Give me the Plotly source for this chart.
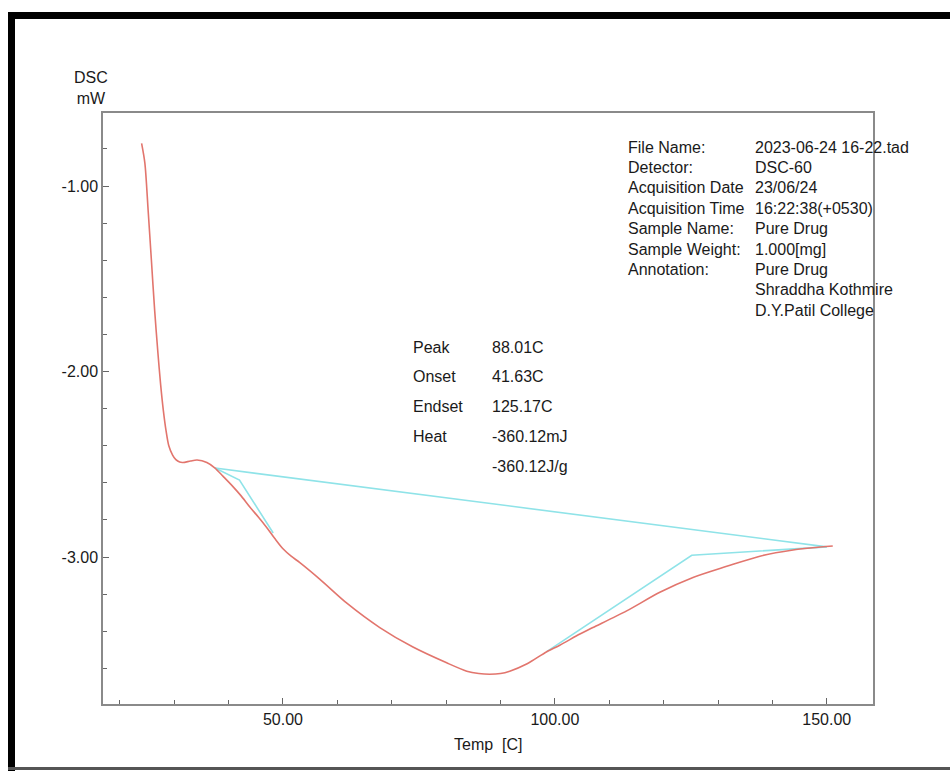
import plotly.graph_objects as go

# ---- data ----
temp = [24.0, 24.6, 25.2, 25.8, 26.4, 27.0, 27.5, 28.0, 28.5, 29.0, 29.7, 30.3,
        31.0, 31.6, 33.0, 34.2, 36.0, 37.5, 39.0, 40.8, 42.3, 43.9, 45.5, 47.0, 48.5,
        50.0, 51.5, 53.1, 56.8, 61.8, 67.8, 73.9, 80.1, 83.8, 86.0, 88.0, 90.0,
        91.7, 94.9, 98.5, 100.9, 104.6, 107.0, 113.2, 119.3, 125.4, 131.6,
        137.7, 143.8, 147.4, 151.1]
dsc = [-0.77, -0.876, -1.13, -1.40, -1.67, -1.90, -2.07, -2.21, -2.32, -2.40, -2.45, -2.475,
       -2.488, -2.49, -2.482, -2.477, -2.49, -2.52, -2.565, -2.62, -2.67, -2.73, -2.785, -2.84, -2.90,
       -2.955, -2.995, -3.03, -3.12, -3.25, -3.38, -3.485, -3.57, -3.615, -3.628, -3.632, -3.628,
       -3.615, -3.575, -3.51, -3.475, -3.415, -3.38, -3.29, -3.19, -3.11, -3.05,
       -2.995, -2.962, -2.95, -2.94]

baseline_t = [37.5, 150.0]
baseline_v = [-2.52, -2.945]
onset_t = [37.5, 42.0, 48.2]
onset_v = [-2.52, -2.585, -2.87]
endset_t = [98.5, 125.17, 150.0]
endset_v = [-3.51, -2.99, -2.945]

x_tickvals = [50, 100, 150]
x_ticktext = ["50.00", "100.00", "150.00"]
y_tickvals = [-1, -2, -3]
y_ticktext = ["-1.00", "-2.00", "-3.00"]

info_labels = ["File Name:", "Detector:", "Acquisition Date", "Acquisition Time",
               "Sample Name:", "Sample Weight:", "Annotation:"]
info_values = ["2023-06-24 16-22.tad", "DSC-60", "23/06/24", "16:22:38(+0530)",
               "Pure Drug", "1.000[mg]", "Pure Drug", "Shraddha Kothmire",
               "D.Y.Patil College"]
stat_labels = ["Peak", "Onset", "Endset", "Heat", ""]
stat_values = ["88.01C", "41.63C", "125.17C", "-360.12mJ", "-360.12J/g"]

# ---- layout geometry (pixels) ----
W, H = 950, 771
L, R, T, B = 103, 873, 113, 704
FONT = "Liberation Sans, Arial, sans-serif"
TXT = "#1a1a1a"


def px(x):
    return (x - L) / (R - L)


def py(y):
    return (B - y) / (B - T)


fig = go.Figure()
fig.add_trace(go.Scatter(x=baseline_t, y=baseline_v, mode="lines",
                         line=dict(color="#8fe3e8", width=1.6), hoverinfo="skip"))
fig.add_trace(go.Scatter(x=onset_t, y=onset_v, mode="lines",
                         line=dict(color="#8fe3e8", width=1.6), hoverinfo="skip"))
fig.add_trace(go.Scatter(x=endset_t, y=endset_v, mode="lines",
                         line=dict(color="#8fe3e8", width=1.6), hoverinfo="skip"))
fig.add_trace(go.Scatter(x=temp, y=dsc, mode="lines",
                         line=dict(color="#e2756d", width=1.6, shape="spline", smoothing=0.8)))

axis_common = dict(showline=True, linecolor="#8a8a8a", linewidth=1.5, mirror=True,
                   showgrid=False, zeroline=False, ticks="inside", ticklen=6,
                   tickcolor="#666666", tickwidth=1,
                   tickfont=dict(family=FONT, size=16, color=TXT))
fig.update_xaxes(range=[16.9, 158.5], tickmode="array", tickvals=x_tickvals,
                 ticktext=x_ticktext,
                 minor=dict(dtick=10, tick0=0, ticks="inside", ticklen=4,
                            tickcolor="#666666"),
                 **axis_common)
fig.update_yaxes(range=[-3.792, -0.606], tickmode="array", tickvals=y_tickvals,
                 ticktext=y_ticktext,
                 minor=dict(dtick=0.2, tick0=0, ticks="inside", ticklen=4,
                            tickcolor="#666666"),
                 **axis_common)

ann = []


def text(x, y, s, anchor="left"):
    ann.append(dict(xref="paper", yref="paper", x=px(x), y=py(y), text=s,
                    showarrow=False, xanchor=anchor, yanchor="middle",
                    font=dict(family=FONT, size=16, color=TXT)))


for i, s in enumerate(info_labels):
    text(626, 147 + 20.4 * i, s)
for i, s in enumerate(info_values):
    text(753, 147 + 20.4 * i, s)
for i, s in enumerate(stat_labels):
    if s:
        text(411, 347 + 29.8 * i, s)
for i, s in enumerate(stat_values):
    text(490, 347 + 29.8 * i, s)

text(91, 88, "DSC<br>mW", "center")
text(488, 744, "Temp  [C]", "center")

shapes = [
    dict(type="line", xref="paper", yref="paper", x0=px(8), x1=px(960),
         y0=py(15.5), y1=py(15.5), line=dict(color="black", width=7)),
    dict(type="line", xref="paper", yref="paper", x0=px(11.5), x1=px(11.5),
         y0=py(12), y1=py(771), line=dict(color="black", width=7)),
    dict(type="line", xref="paper", yref="paper", x0=px(8), x1=px(960),
         y0=py(768.5), y1=py(768.5), line=dict(color="#555555", width=3)),
]

fig.update_layout(width=W, height=H, margin=dict(l=L, r=W - R, t=T, b=H - B),
                  paper_bgcolor="white", plot_bgcolor="white", showlegend=False,
                  annotations=ann, shapes=shapes)

fig.write_html("out.html", config={"displayModeBar": False},
               post_script="document.body.style.margin='0px';")
